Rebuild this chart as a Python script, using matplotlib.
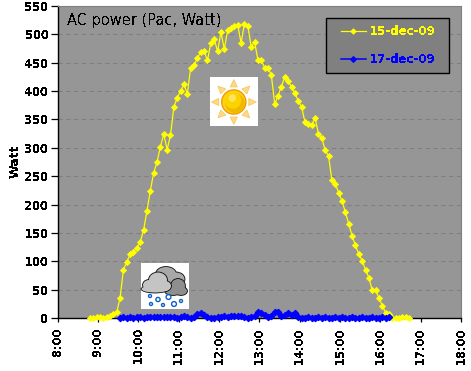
import matplotlib
matplotlib.use("Agg")
import matplotlib.pyplot as plt
from matplotlib.patches import Circle, Polygon, Rectangle, Ellipse
import numpy as np

plt.rcParams['font.family'] = ['DejaVu Sans']
plt.rcParams['text.antialiased'] = False

times_dec15 = ["8:48","8:53","8:58","9:03","9:08","9:13","9:18","9:23","9:28","9:33","9:38","9:43",
"9:48","9:53","9:58","10:03","10:08","10:13","10:18","10:23","10:28","10:33","10:38","10:43",
"10:48","10:53","10:58","11:03","11:08","11:13","11:18","11:23","11:28","11:33","11:38","11:43",
"11:48","11:53","11:58","12:03","12:08","12:13","12:18","12:23","12:28","12:33","12:38","12:43",
"12:48","12:53","12:58","13:03","13:08","13:13","13:18","13:23","13:28","13:33","13:38","13:43",
"13:48","13:53","13:58","14:03","14:08","14:13","14:18","14:23","14:28","14:33","14:38","14:43",
"14:48","14:53","14:58","15:03","15:08","15:13","15:18","15:23","15:28","15:33","15:38","15:43",
"15:48","15:53","15:58","16:03","16:08","16:13","16:18","16:23","16:28","16:33","16:38","16:43"]
watt_dec15 = [0,0,1,2,0,1,3,7,10,35,85,99,
112,117,124,134,155,189,224,256,275,302,324,297,
322,372,388,400,412,395,441,446,458,469,471,454,
485,492,470,504,474,507,511,514,516,485,519,515,
478,487,455,455,441,441,428,377,392,408,425,418,
407,396,383,372,345,342,340,353,325,317,296,286,
243,237,221,206,187,166,145,128,113,101,85,71,
49,49,35,22,9,7,0,0,0,1,1,0]

times_dec17 = ["9:33","9:38","9:43","9:48","9:53","9:58","10:03","10:08","10:13","10:18","10:23","10:28",
"10:33","10:38","10:43","10:48","10:53","10:58","11:03","11:08","11:13","11:18","11:23","11:28",
"11:33","11:38","11:43","11:48","11:53","11:58","12:03","12:08","12:13","12:18","12:23","12:28",
"12:33","12:38","12:43","12:48","12:53","12:58","13:03","13:08","13:13","13:18","13:23","13:28",
"13:33","13:38","13:43","13:48","13:53","13:58","14:03","14:08","14:13","14:18","14:23","14:28",
"14:33","14:38","14:43","14:48","14:53","14:58","15:03","15:08","15:13","15:18","15:23","15:28",
"15:33","15:38","15:43","15:48","15:53","15:58","16:03","16:08","16:13"]
watt_dec17 = [0,1,0,1,0,1,1,0,1,1,2,1,
2,1,1,2,1,0,2,4,1,0,2,7,
9,6,2,0,0,1,2,3,2,3,3,4,
3,2,0,1,4,10,9,5,2,4,10,11,
4,6,9,5,9,2,0,0,1,0,0,1,
0,1,0,0,1,0,1,0,0,1,0,0,
1,0,0,1,0,0,1,0,1]

x_tick_labels = ["8:00","9:00","10:00","11:00","12:00","13:00","14:00","15:00","16:00","17:00","18:00"]
y_ticks = list(range(0, 551, 50))
series_names = ["15-dec-09", "17-dec-09"]
title_text = "AC power (Pac, Watt)"

def to_hours(labels):
    return [int(s.split(":")[0]) + int(s.split(":")[1]) / 60 for s in labels]

W, H = 471, 371
fig = plt.figure(figsize=(W/100, H/100), dpi=100, facecolor="white")
ax = fig.add_axes([57.5/W, 1-318/H, (461-57.5)/W, (318-6)/H], facecolor="#969696")
ax.set_xlim(8, 18)
ax.set_ylim(0, 550)
ax.yaxis.grid(True, ls=(0, (4, 3.5)), color="#7f7f7f", lw=0.75)
ax.set_axisbelow(True)

ax.plot(to_hours(times_dec15), watt_dec15, color="#ffff00", lw=0.9, marker="D", ms=3.1,
        mec="#ffff00", mew=0.6, label=series_names[0], clip_on=False, zorder=3)
ax.plot(to_hours(times_dec17), watt_dec17, color="#0000ff", lw=1.1, marker="D", ms=3.3,
        mec="#0000ff", mew=0.8, label=series_names[1], clip_on=False, zorder=4)

ax.set_xticks(range(8, 19))
ax.set_xticklabels(x_tick_labels, rotation=90, fontsize=8.3, fontweight="bold", color="black")
ax.set_yticks(y_ticks)
ax.set_yticklabels([str(v) for v in y_ticks], fontsize=8.3, fontweight="bold")
ax.tick_params(axis="y", length=5, width=0.9, pad=1.6, color="black")
ax.tick_params(axis="x", length=2.6, width=0.9, pad=4, color="black")
for s in ("top", "right"):
    ax.spines[s].set_color("#808080")
for s in ("left", "bottom"):
    ax.spines[s].set_color("black")
    ax.spines[s].set_linewidth(1.0)

fig.text(15/W, 1-161.5/H, "Watt", rotation=90, fontsize=9, fontweight="bold", va="center", ha="center")
ax.text(67/W, 1-20/H, title_text, transform=fig.transFigure, fontsize=10.5,
        va="center", ha="left", color="black")

ax.add_patch(Rectangle((325.5/W, 1-73/H), 123.5/W, 55.5/H, transform=fig.transFigure,
                       fc="#808080", ec="black", lw=1.0, zorder=4.5, clip_on=False))
leg = ax.legend(loc="upper left", bbox_to_anchor=(341/W, 1-25/H), bbox_transform=fig.transFigure,
                frameon=False, fontsize=8.5, labelspacing=1.25, handlelength=2.1, handletextpad=0.36,
                borderpad=0, borderaxespad=0, markerscale=0.9)
leg.set_zorder(6)
for t, c in zip(leg.get_texts(), ["#ffff00", "#0000ff"]):
    t.set_color(c)
    t.set_fontweight("bold")

# weather icons drawn in pixel coordinates
ov = fig.add_axes([0, 0, 1, 1], facecolor="none", zorder=5)
ov.set_xlim(0, W); ov.set_ylim(H, 0); ov.axis("off")

# sun
ov.add_patch(Rectangle((210, 77), 48, 49, fc="white", ec="none"))
cx, cy = 233.8, 102
for a in np.arange(0, 360, 45):
    r = np.deg2rad(a)
    d = np.array([np.cos(r), np.sin(r)]); n = np.array([-d[1], d[0]])
    c0 = np.array([cx, cy])
    tip = c0 + d * 22.5
    b1 = c0 + d * 15 + n * 3.6
    b2 = c0 + d * 15 - n * 3.6
    ov.add_patch(Polygon([tip, b1, b2], fc="#fbd987", ec="#f6c45a", lw=0.5))
ov.add_patch(Circle((cx, cy), 12.8, fc="#f29b00", ec="none"))
ov.add_patch(Circle((cx, cy), 11.4, fc="#ffd21a", ec="none"))
ov.add_patch(Circle((cx+1.2, cy+1.2), 9.8, fc="#f1b800", ec="none"))
ov.add_patch(Circle((cx-0.8, cy-1.5), 8.2, fc="#fbd400", ec="none"))
ov.add_patch(Circle((cx-1.5, cy-4), 3.8, fc="#ffe35a", ec="none"))

# cloud with snow
ov.add_patch(Rectangle((141, 263), 48, 46, fc="white", ec="none"))
def cloud(parts, fc):
    for (x, y, w, h) in parts:
        ov.add_patch(Ellipse((x, y), w+1.8, h+1.8, fc="#111111", ec="none"))
    for (x, y, w, h) in parts:
        ov.add_patch(Ellipse((x, y), w, h, fc=fc, ec="none"))
cloud([(166, 274, 20, 14), (176, 279, 17, 13), (157, 280, 14, 12), (172, 285, 24, 12)], "#a8a8a8")
cloud([(178, 286, 14, 14), (173, 291, 16, 8), (181, 291, 12, 8)], "#8e8e8e")
cloud([(158, 280, 18, 15), (149, 285, 12, 10), (165, 286, 12, 10), (155, 289, 27, 7)], "#c4c4c4")
for x, y, r in [(150, 296, 1.5), (158, 299.5, 2.1), (168.5, 297, 2.4), (151, 304, 1.5),
                (163, 305, 1.5), (174, 304, 2.4), (181, 301, 1.5)]:
    ov.add_patch(Circle((x, y), r, fc="white", ec="#0a5fc8", lw=1))

fig.savefig("out.png", dpi=100)
